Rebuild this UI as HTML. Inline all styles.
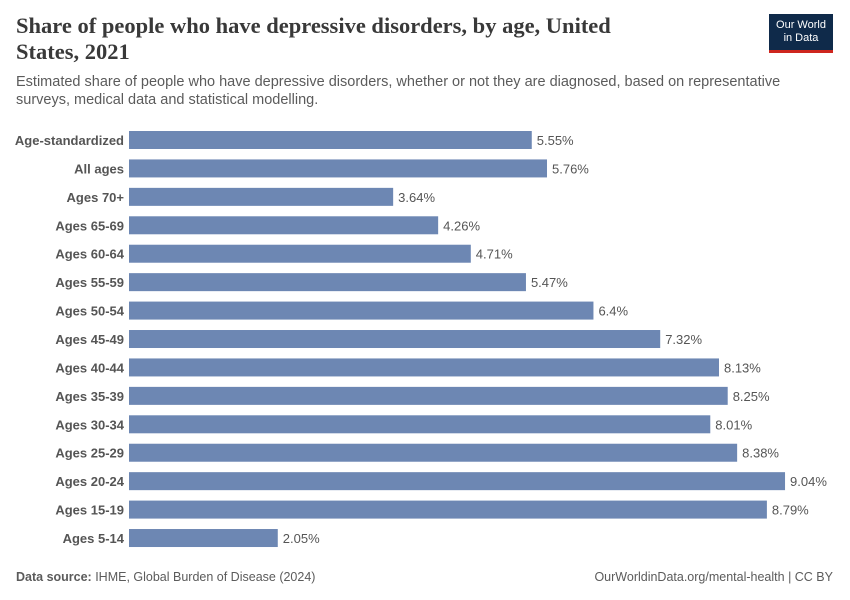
<!DOCTYPE html>
<html><head><meta charset="utf-8">
<style>
body{margin:0;background:#fff;width:850px;height:600px;overflow:hidden;font-family:"Liberation Sans",sans-serif;position:relative}
.title{position:absolute;left:16px;top:13px;width:620px;font-family:"Liberation Serif",serif;font-size:22.5px;line-height:26px;color:#393939;font-weight:bold}
.sub{position:absolute;left:16px;top:73px;width:800px;font-size:14.5px;line-height:18px;color:#5b5b5b}
.logo{position:absolute;left:769px;top:14px;width:64px;background:#0f2a4a;border-bottom:3px solid #ce261e;color:#fff;font-size:11px;line-height:13px;text-align:center;padding-top:5px;box-sizing:content-box;height:31px}
.foot{position:absolute;top:570px;font-size:12.5px;color:#5b5b5b}
</style></head><body>
<div class="title">Share of people who have depressive disorders, by age, United States, 2021</div>
<div class="sub">Estimated share of people who have depressive disorders, whether or not they are diagnosed, based on representative surveys, medical data and statistical modelling.</div>
<div class="logo">Our World<br>in Data</div>
<svg id="chart" width="850" height="600" style="position:absolute;left:0;top:0"></svg>
<div class="foot" style="left:16px"><b>Data source:</b> IHME, Global Burden of Disease (2024)</div>
<div class="foot" style="right:17px">OurWorldinData.org/mental-health | CC BY</div>
<script>
const categories=["Age-standardized","All ages","Ages 70+","Ages 65-69","Ages 60-64","Ages 55-59","Ages 50-54","Ages 45-49","Ages 40-44","Ages 35-39","Ages 30-34","Ages 25-29","Ages 20-24","Ages 15-19","Ages 5-14"];
const values=[5.55,5.76,3.64,4.26,4.71,5.47,6.4,7.32,8.13,8.25,8.01,8.38,9.04,8.79,2.05];
const labels=["5.55%","5.76%","3.64%","4.26%","4.71%","5.47%","6.4%","7.32%","8.13%","8.25%","8.01%","8.38%","9.04%","8.79%","2.05%"];
const svg=document.getElementById('chart');
const NS='http://www.w3.org/2000/svg';
const x0=129,pxPer=72.57,y0=140,step=28.43,bh=18;
function xs(v){return x0+v*pxPer;}
function ys(i){return y0+i*step;}
categories.forEach((c,i)=>{
  const y=ys(i);
  const t=document.createElementNS(NS,'text');
  
  
  t.setAttribute('x',124);t.setAttribute('y',y+5);t.setAttribute('text-anchor','end');
  t.setAttribute('font-size','13');t.setAttribute('font-weight','bold');t.setAttribute('fill','#555');
  t.textContent=c;svg.appendChild(t);
  const r=document.createElementNS(NS,'rect');
  
  
  r.setAttribute('x',x0);r.setAttribute('y',y-bh/2);r.setAttribute('width',xs(values[i])-x0);r.setAttribute('height',bh);
  r.setAttribute('fill','#6d87b3');svg.appendChild(r);
  const v=document.createElementNS(NS,'text');
  
  
  v.setAttribute('x',xs(values[i])+5);v.setAttribute('y',y+5);
  v.setAttribute('font-size','13');v.setAttribute('fill','#555');
  v.textContent=labels[i];svg.appendChild(v);
});
</script>
</body></html>
